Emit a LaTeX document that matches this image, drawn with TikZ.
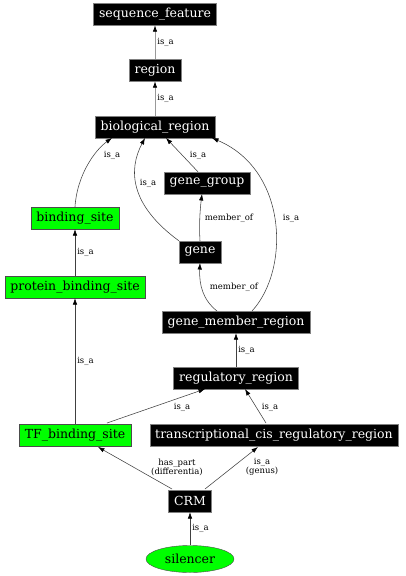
\documentclass[tikz,border=0pt]{standalone}
\usepackage{fontspec}
\setmainfont{DejaVu Serif}
\usetikzlibrary{arrows.meta,shapes.geometric}

\definecolor{termgreen}{HTML}{00FF00}
\definecolor{edgegray}{HTML}{999999}

\tikzset{
  TermStyle/.style={draw=gray, fill=black, text=white, font=\fontsize{12.5}{14}\selectfont,
    minimum height=22pt, inner xsep=5.5pt, inner ysep=2pt},
  MatchStyle/.style={TermStyle, fill=termgreen, text=black, draw=black!70},
  EdgeStyle/.style={-{Latex[length=6.5pt,width=4.5pt,color=black]}, draw=black!75, line width=0.55pt},
  GrayEdgeStyle/.style={EdgeStyle, draw=edgegray, line width=0.8pt},
  LabelStyle/.style={font=\fontsize{8.5}{9}\selectfont, align=center, inner sep=1pt}
}

\begin{document}
\begin{tikzpicture}[x=1pt, y=-1pt]
  \useasboundingbox (0,0) rectangle (406,576);

  % terms
  \node[TermStyle] (seqfeat) at (155,14) {sequence\_feature};
  \node[TermStyle] (region) at (155,70) {region};
  \node[TermStyle] (bioregion) at (155,127) {biological\_region};
  \node[TermStyle] (genegroup) at (207,183) {gene\_group};
  \node[MatchStyle] (bindsite) at (75,218) {binding\_site};
  \node[TermStyle] (gene) at (200,252) {gene};
  \node[MatchStyle] (protbind) at (75,287) {protein\_binding\_site};
  \node[TermStyle] (genemember) at (236,322) {gene\_member\_region};
  \node[TermStyle] (regregion) at (236,378) {regulatory\_region};
  \node[MatchStyle] (tfbind) at (75,435) {TF\_binding\_site};
  \node[TermStyle] (transcis) at (274,435) {transcriptional\_cis\_regulatory\_region};
  \node[TermStyle] (crm) at (190,501) {CRM};
  \node[ellipse, draw=black!70, fill=termgreen, font=\fontsize{12.5}{14}\selectfont,
    minimum width=88pt, minimum height=27pt, inner sep=0pt] (silencer) at (190,559) {silencer};

  % links
  \draw[GrayEdgeStyle] (region) -- node[LabelStyle, right=1pt] {is\_a} (seqfeat);
  \draw[GrayEdgeStyle] (bioregion) -- node[LabelStyle, right=1pt] {is\_a} (region);
  \draw[EdgeStyle] (bindsite.north) .. controls (77,175) and (95,150) .. (112,138);
  \node[LabelStyle] at (112,155) {is\_a};
  \draw[EdgeStyle] (gene.north west) .. controls (130,205) and (128,170) .. (145,138);
  \node[LabelStyle] at (148,183) {is\_a};
  \draw[EdgeStyle] (genegroup.north west) ++(34,0) -- (166,138);
  \node[LabelStyle] at (198,155) {is\_a};
  \draw[EdgeStyle] (252,311) .. controls (290,270) and (288,170) .. (212,138);
  \node[LabelStyle] at (291,218) {is\_a};
  \draw[EdgeStyle] (gene.north) .. controls (199,225) and (200,210) .. (202,194);
  \node[LabelStyle] at (229,218) {member\_of};
  \draw[EdgeStyle] (217,311) .. controls (203,300) and (199,285) .. (200,263);
  \node[LabelStyle] at (234,287) {member\_of};
  \draw[EdgeStyle] (protbind) -- node[LabelStyle, right=1pt] {is\_a} (bindsite);
  \draw[EdgeStyle] (tfbind) -- node[LabelStyle, right=1pt] {is\_a} (protbind);
  \draw[EdgeStyle] (regregion) -- node[LabelStyle, right=1pt] {is\_a} (genemember);
  \draw[EdgeStyle] (107,423) -- (205,389);
  \node[LabelStyle] at (182,407) {is\_a};
  \draw[EdgeStyle] (266,423) -- (245,389);
  \node[LabelStyle] at (270,407) {is\_a};
  \draw[EdgeStyle] (172,489) -- (98,447);
  \node[LabelStyle] at (177,467) {has\_part\\(differentia)};
  \draw[EdgeStyle] (205,489) -- (258,447);
  \node[LabelStyle] at (262,467) {is\_a\\(genus)};
  \draw[EdgeStyle] (silencer) -- node[LabelStyle, right=1pt] {is\_a} (crm);
\end{tikzpicture}
\end{document}
